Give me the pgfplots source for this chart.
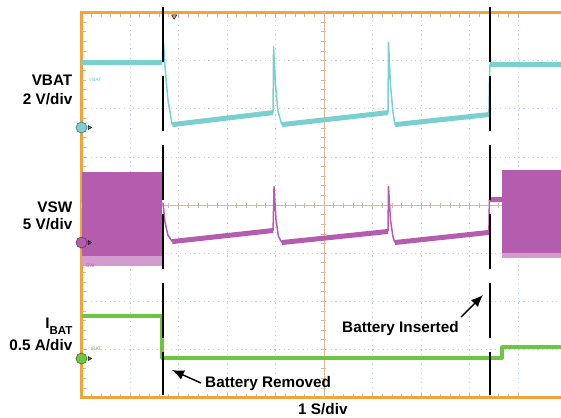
\documentclass[border=0pt]{standalone}
\usepackage{pgfplots}
\pgfplotsset{compat=1.18}
\usepackage{fontspec}
\setmainfont{Liberation Sans}
\usetikzlibrary{arrows.meta}

\definecolor{scteal}{HTML}{7ACFCF}
\definecolor{scmag}{HTML}{B45CAE}
\definecolor{scgreen}{HTML}{6DC642}
\definecolor{scframe}{HTML}{F2A33A}
\definecolor{sctan}{HTML}{DDB894}
\definecolor{scgrid}{HTML}{C3D4E0}
\definecolor{sctrig}{HTML}{F08C78}
\newcommand{\lbl}{\fontsize{15.3}{18}\selectfont\bfseries}
\newcommand{\tinylbl}{\fontsize{5}{5}\selectfont}

\begin{document}
\begin{tikzpicture}
\useasboundingbox (0,0) rectangle (561pt,-417pt);
\pgfplotsset{scope geom/.style={
    at={(81.5pt,-397.5pt)}, anchor=south west,
    scale only axis, width=479.5pt, height=385pt,
    xmin=-5, xmax=4.887, ymin=-4, ymax=4,
    xtick={-5,...,4}, ytick={-4,...,4},
    minor x tick num=4, minor y tick num=4,
    xticklabels={}, yticklabels={}}}

% screen frame and graticule
\begin{axis}[scope geom, clip=false,
    xtick pos=both, ytick pos=left, tick align=inside,
    major tick length=5pt, minor tick length=4pt,
    tick style={sctan, line width=0.7pt},
    grid=major,
    major grid style={scgrid, line width=0.7pt, dash pattern=on 1.2pt off 3.5pt},
    axis line style={draw=none}]
  \draw[scframe, line width=2.2pt] (rel axis cs:1,0) -- (rel axis cs:0,0)
      -- (rel axis cs:0,1) -- (rel axis cs:1,1);
\end{axis}

% centre axes and traces (in divisions)
\begin{axis}[scope geom,
    axis lines=middle, axis line style={-, sctan, line width=0.8pt},
    tick align=center, major tick length=5pt, minor tick length=5pt,
    tick style={sctan, line width=0.7pt},
    clip=false, unbounded coords=jump,
    every axis plot/.append style={line join=round}]

  % VSW switching bands
  \addplot[fill=scmag!60, draw=none] coordinates {(-5,-1.05) (-3.33,-1.05) (-3.33,-1.27) (-5,-1.27)} --cycle;
  \addplot[fill=scmag, draw=none] coordinates {(-5,0.68) (-3.33,0.68) (-3.33,-1.05) (-5,-1.05)} --cycle;
  \addplot[fill=scmag!60, draw=none] coordinates {(3.67,-1.0) (4.887,-1.0) (4.887,-1.1) (3.67,-1.1)} --cycle;
  \addplot[fill=scmag, draw=none] coordinates {(3.67,0.72) (4.887,0.72) (4.887,-1.0) (3.67,-1.0)} --cycle;

  % VSW
  \addplot[scmag, line width=1.5pt] coordinates {
    (-3.32,0.05) (-3.28,-0.35) (-3.22,-0.62) (-3.13,-0.76) (nan,nan)
    (-1.05,-0.53) (-1.03,0.38) (-0.99,-0.3) (-0.94,-0.65) (-0.87,-0.78) (nan,nan)
    (1.32,-0.55) (1.33,0.38) (1.37,-0.3) (1.42,-0.65) (1.46,-0.78) (nan,nan)
    (3.40,-0.57) (3.41,0.11)};
  \addplot[scmag, line width=5pt] coordinates {
    (-3.13,-0.76) (-1.05,-0.53) (nan,nan)
    (-0.87,-0.78) (1.32,-0.55) (nan,nan)
    (1.46,-0.78) (3.40,-0.57) (nan,nan)
    (3.41,0.11) (3.67,0.11)};

  % VBAT
  \addplot[scteal, line width=1.5pt] coordinates {
    (-3.33,2.96) (-3.32,3.58) (-3.28,2.9) (-3.22,2.2) (-3.13,1.67) (nan,nan)
    (-1.05,1.92) (-1.04,3.29) (-1.0,2.5) (-0.95,1.95) (-0.87,1.67) (nan,nan)
    (1.32,1.92) (1.33,3.38) (1.37,2.5) (1.42,1.95) (1.46,1.67) (nan,nan)
    (3.40,1.88) (3.42,2.92)};
  \addplot[scteal, line width=5pt] coordinates {
    (-5,2.96) (-3.33,2.96) (nan,nan)
    (-3.13,1.67) (-1.05,1.92) (nan,nan)
    (-0.87,1.67) (1.32,1.92) (nan,nan)
    (1.46,1.67) (3.40,1.88) (nan,nan)
    (3.42,2.92) (4.887,2.92)};

  % IBAT
  \addplot[scgreen, line width=1.2pt] coordinates {(3.42,-3.17) (3.42,-3.75)};
  \addplot[scgreen, line width=4pt] coordinates {
    (-5,-2.30) (-3.33,-2.30) (-3.33,-3.17) (3.67,-3.17) (3.67,-2.96) (4.887,-2.96)};

  % ground markers and channel tags
  \addplot[only marks, mark=triangle*, mark size=2.4pt,
    mark options={rotate=-90, fill=scteal!70!black, draw=none}] coordinates {(-4.84,1.61)};
  \addplot[only marks, mark=triangle*, mark size=2.4pt,
    mark options={rotate=-90, fill=scmag!70!black, draw=none}] coordinates {(-4.84,-0.78)};
  \addplot[only marks, mark=triangle*, mark size=2.4pt,
    mark options={rotate=-90, fill=scgreen!70!black, draw=none}] coordinates {(-4.84,-3.19)};
  \addplot[only marks, mark=*, mark size=5.5pt,
    mark options={fill=scteal, draw=scteal!60!black, line width=0.6pt}] coordinates {(-5,1.61)};
  \addplot[only marks, mark=*, mark size=5.5pt,
    mark options={fill=scmag, draw=scmag!60!black, line width=0.6pt}] coordinates {(-5,-0.78)};
  \addplot[only marks, mark=*, mark size=5.5pt,
    mark options={fill=scgreen, draw=scgreen!60!black, line width=0.6pt}] coordinates {(-5,-3.19)};
  \node[text=white, font=\tinylbl] at (axis cs:-5,1.61) {2};
  \node[text=white, font=\tinylbl] at (axis cs:-5,-0.78) {3};
  \node[text=white, font=\tinylbl] at (axis cs:-5,-3.19) {4};
  \node[text=scteal, font=\tinylbl] at (axis cs:-4.72,2.61) {VBAT};
  \node[text=scmag, font=\tinylbl] at (axis cs:-4.82,-1.26) {SW};
  \node[text=scgreen, font=\tinylbl] at (axis cs:-4.70,-2.98) {IBAT};

  % trigger position
  \addplot[only marks, mark=triangle*, mark size=3pt,
    mark options={rotate=180, fill=sctrig, draw=none}] coordinates {(-3.09,3.92)};

  % event markers
  \addplot[black, line width=1.4pt, dash pattern=on 55pt off 14pt] coordinates {(-3.32,4.12) (-3.32,-3.95)};
  \addplot[black, line width=1.4pt, dash pattern=on 55pt off 14pt] coordinates {(3.42,4.12) (3.42,-3.95)};
\end{axis}

% labels
\node[anchor=base east, inner sep=0, font=\lbl] at (72.5pt,-86pt) {VBAT};
\node[anchor=base east, inner sep=0, font=\lbl] at (72.5pt,-104.5pt) {2 V/div};
\node[anchor=base east, inner sep=0, font=\lbl] at (72.5pt,-212pt) {VSW};
\node[anchor=base east, inner sep=0, font=\lbl] at (72.5pt,-229.5pt) {5 V/div};
\node[anchor=base east, inner sep=0, font=\lbl] at (72.5pt,-328pt)
  {I\raisebox{-6pt}{\fontsize{11.5}{12}\selectfont BAT}};
\node[anchor=base east, inner sep=0, font=\lbl] at (72.5pt,-350pt) {0.5 A/div};
\node[anchor=base west, inner sep=0, font=\lbl] at (205pt,-387pt) {Battery Removed};
\node[anchor=base west, inner sep=0, font=\lbl] at (342pt,-332pt) {Battery Inserted};
\node[anchor=base west, inner sep=0, font=\lbl] at (298pt,-414pt) {1 S/div};
\draw[-{Latex[length=12pt,width=10pt]}, line width=1.4pt] (201pt,-383pt) -- (172pt,-370pt);
\draw[-{Latex[length=12pt,width=10pt]}, line width=1.4pt] (461pt,-317pt) -- (483pt,-295pt);
\end{tikzpicture}
\end{document}
